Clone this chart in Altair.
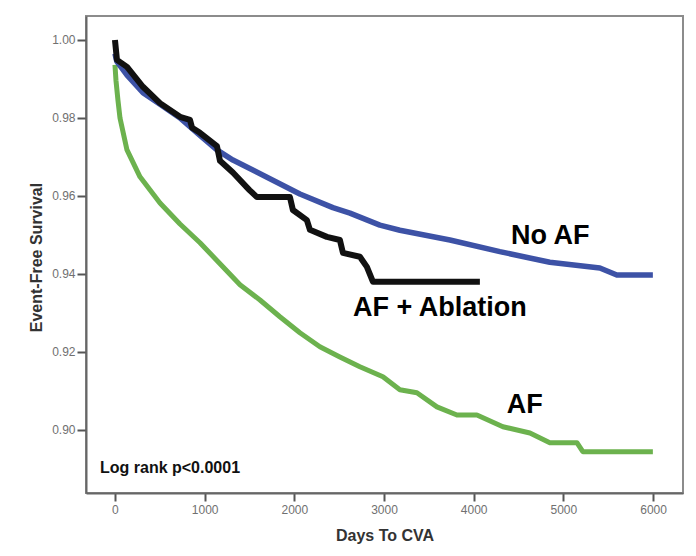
import altair as alt
import pandas as pd

# ---- data ----
noaf_days = [0, 20, 134, 312, 502, 725, 948, 1137, 1315, 1695, 2062, 2430, 2620, 2954, 3177, 3735, 4292, 4849, 5407, 5596, 5998]
noaf_surv = [0.9965, 0.9945, 0.991, 0.9865, 0.9835, 0.980, 0.9755, 0.9718, 0.9692, 0.9648, 0.9605, 0.957, 0.9556, 0.9525, 0.9512, 0.9487, 0.9457, 0.943, 0.9415, 0.9397, 0.9397]

abl_days = [0, 22, 134, 312, 502, 725, 836, 860, 948, 1137, 1171, 1315, 1500, 1583, 1951, 1984, 2140, 2174, 2363, 2508, 2542, 2731, 2809, 2876, 4069]
abl_surv = [1.000, 0.9949, 0.9931, 0.988, 0.9838, 0.9803, 0.9795, 0.9775, 0.9762, 0.9728, 0.9690, 0.966, 0.9615, 0.9597, 0.9597, 0.9564, 0.9538, 0.9513, 0.9495, 0.9487, 0.9454, 0.9444, 0.9418, 0.938, 0.938]

af_days = [0, 11, 33, 56, 134, 279, 502, 725, 948, 1171, 1394, 1617, 1839, 2062, 2285, 2508, 2731, 2988, 3177, 3367, 3590, 3813, 4036, 4326, 4627, 4849, 5151, 5217, 5998]
af_surv = [0.9936, 0.9897, 0.9846, 0.980, 0.9718, 0.9649, 0.9582, 0.9528, 0.948, 0.9426, 0.9372, 0.9333, 0.929, 0.9249, 0.9213, 0.9187, 0.9162, 0.9136, 0.9103, 0.9095, 0.9059, 0.9038, 0.9038, 0.9008, 0.8992, 0.8967, 0.8967, 0.8944, 0.8944]

groups = ["AF", "No AF", "AF + Ablation"]
colors = ["#6cb24e", "#3d52a6", "#111111"]
widths = [5, 6, 5]

label_text = ["No AF", "AF + Ablation", "AF"]
label_days = [4415, 2653, 4370]
label_surv = [0.9498, 0.9313, 0.9064]

note_text = ["Log rank p<0.0001"]
note_days = [-167]
note_surv = [0.8903]

x_ticks = [0, 1000, 2000, 3000, 4000, 5000, 6000]
y_ticks = [0.90, 0.92, 0.94, 0.96, 0.98, 1.00]

# ---- tables ----
rows = []
for g, d, s in [("AF", af_days, af_surv), ("No AF", noaf_days, noaf_surv), ("AF + Ablation", abl_days, abl_surv)]:
    for i, (dd, ss) in enumerate(zip(d, s)):
        rows.append({"group": g, "days": dd, "surv": ss, "order": i})
curves = pd.DataFrame(rows)
labels = pd.DataFrame({"text": label_text, "days": label_days, "surv": label_surv})
note = pd.DataFrame({"text": note_text, "days": note_days, "surv": note_surv})

xscale = alt.Scale(domain=[-323, 6334], nice=False, zero=False)
yscale = alt.Scale(domain=[0.8838, 1.00615], nice=False, zero=False)

xaxis = alt.Axis(values=x_ticks, format="d", title="Days To CVA", grid=False,
                 labelFont="Liberation Sans", labelFontSize=12, labelColor="#707070",
                 tickColor="#555555", tickSize=8, tickWidth=2, labelPadding=3,
                 domainColor="#666666", domainWidth=2,
                 titleFont="Liberation Sans", titleFontSize=16, titleFontWeight="bold",
                 titleColor="#333333", titleX=298.5, titleY=42, titleBaseline="middle",
                 titleAlign="center")
yaxis = alt.Axis(values=y_ticks, format=".2f", title="Event-Free Survival", grid=False,
                 labelFont="Liberation Sans", labelFontSize=12, labelColor="#707070",
                 tickColor="#555555", tickSize=9, tickWidth=2, labelPadding=2,
                 domainColor="#666666", domainWidth=2,
                 titleFont="Liberation Sans", titleFontSize=16, titleFontWeight="bold",
                 titleColor="#333333", titleX=-50, titleY=241, titleAngle=270,
                 titleAlign="center", titleBaseline="middle")

base = alt.Chart(curves)

lines = base.mark_line(interpolate="linear", strokeCap="butt", strokeJoin="round").encode(
    x=alt.X("days:Q", scale=xscale, axis=xaxis),
    y=alt.Y("surv:Q", scale=yscale, axis=yaxis),
    color=alt.Color("group:N", scale=alt.Scale(domain=groups, range=colors), legend=None),
    strokeWidth=alt.StrokeWidth("group:N", scale=alt.Scale(domain=groups, range=widths), legend=None),
    detail="group:N",
    order="order:Q",
)

big_text = alt.Chart(labels).mark_text(
    align="left", baseline="middle", font="Liberation Sans", fontWeight="bold",
    fontSize=27, color="#000000"
).encode(x=alt.X("days:Q", scale=xscale), y=alt.Y("surv:Q", scale=yscale), text="text:N")

note_mark = alt.Chart(note).mark_text(
    align="left", baseline="middle", font="Liberation Sans", fontWeight="bold",
    fontSize=16, color="#111111"
).encode(x=alt.X("days:Q", scale=xscale), y=alt.Y("surv:Q", scale=yscale), text="text:N")

chart = alt.layer(lines, big_text, note_mark).properties(
    width=597, height=477,
    padding={"left": 78, "top": 8, "right": 5, "bottom": 55},
    autosize=alt.AutoSizeParams(type="none"),
    background="white",
).configure_view(stroke="#8c8c8c", strokeWidth=2)

chart.save("out.html", embed_options={"renderer": "svg", "actions": False})
